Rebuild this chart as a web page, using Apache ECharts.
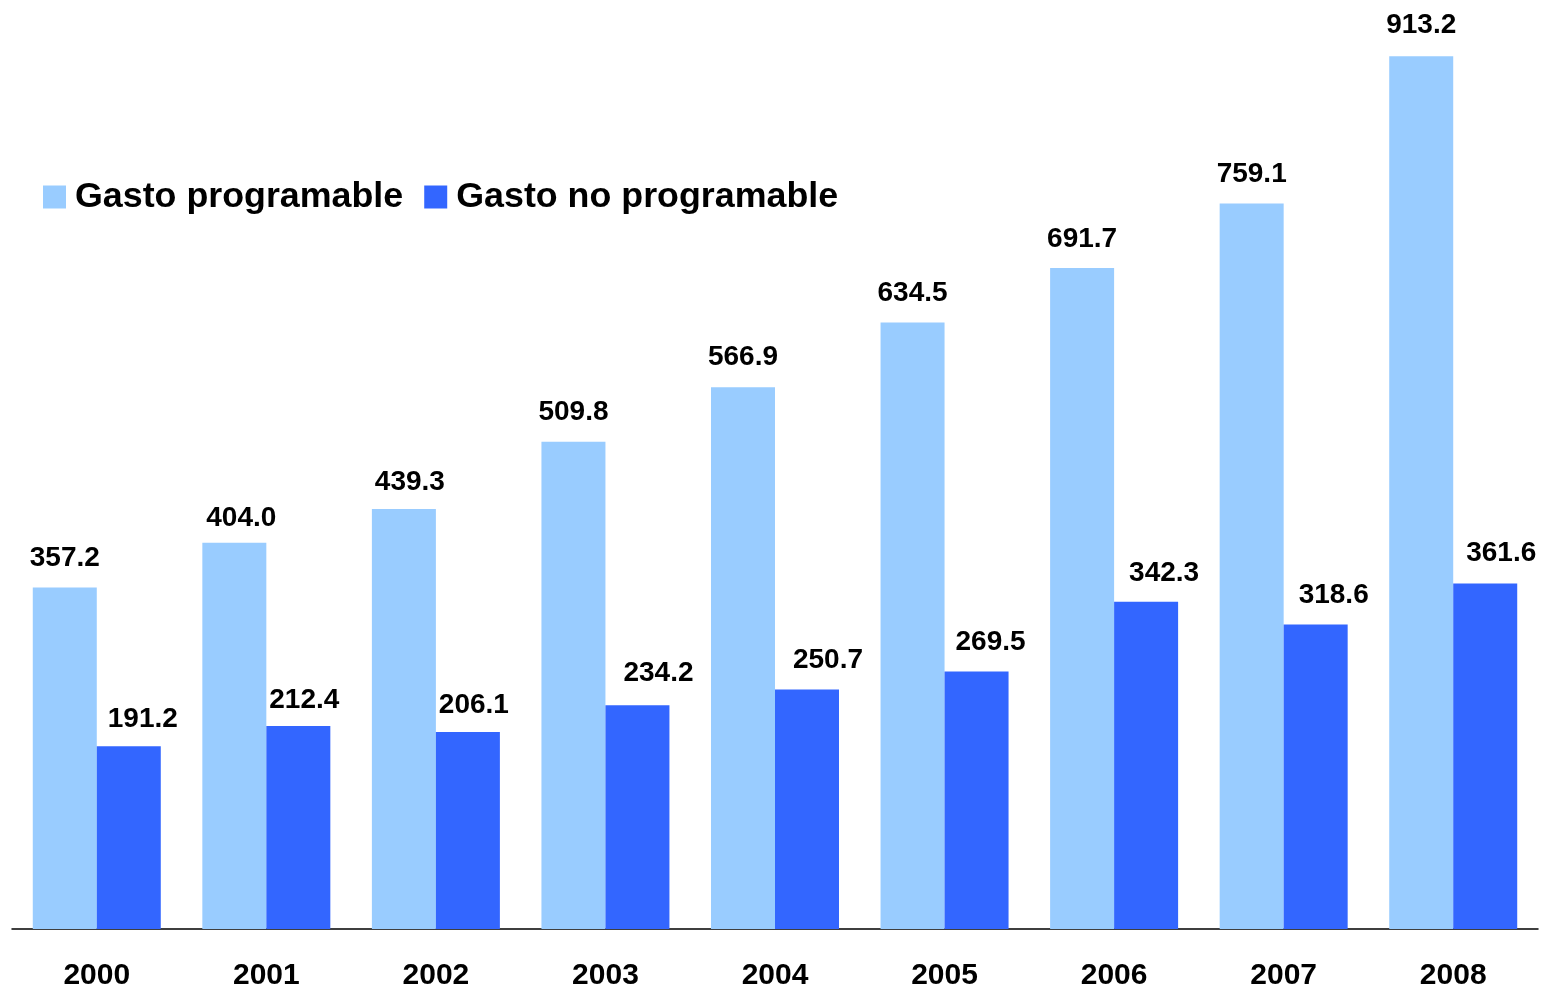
<!DOCTYPE html>
<html>
<head>
<meta charset="utf-8">
<script src="https://cdn.jsdelivr.net/npm/echarts@6/dist/echarts.min.js"></script>
<style>
html,body{margin:0;padding:0;background:#fff;}
#chart{width:1541px;height:991px;}
</style>
</head>
<body>
<div id="chart"></div>
<script>
const years = ['2000','2001','2002','2003','2004','2005','2006','2007','2008'];
const gastoProgramable = [357.2, 404.0, 439.3, 509.8, 566.9, 634.5, 691.7, 759.1, 913.2];
const gastoNoProgramable = [191.2, 212.4, 206.1, 234.2, 250.7, 269.5, 342.3, 318.6, 361.6];
const seriesNames = ['Gasto programable', 'Gasto no programable'];

// label placement tweaks (layout only, in pixels)
const labelShiftProg = [[0,0],[7,4],[6,2],[0,0],[0,-1],[0,0],[0,0],[0,0],[0,-2]];
const labelShiftNoProg = [[14,2],[6,3],[6,2],[21,-3],[21,0],[14,0],[18,0],[18,0],[16,-1]];

const FONT = '"Liberation Sans", Arial, sans-serif';
const chart = echarts.init(document.getElementById('chart'));
const labelCfg = {
  show: true,
  position: 'top',
  distance: 15,
  color: '#000',
  fontFamily: FONT,
  fontWeight: 'bold',
  fontSize: 28,
  formatter: p => Number(p.value).toFixed(1)
};
function items(values, shifts) {
  return values.map((v, i) => ({ value: v, label: { offset: shifts[i] } }));
}
chart.setOption({
  animation: false,
  backgroundColor: '#fff',
  legend: {
    left: 38,
    top: 174,
    itemWidth: 23,
    itemHeight: 23,
    itemGap: 21,
    icon: 'rect',
    textStyle: {
      fontFamily: FONT,
      fontWeight: 'bold',
      fontSize: 35.8,
      color: '#000',
      padding: [0, 0, 0, 4]
    },
    data: seriesNames
  },
  grid: { left: 12, right: 3, top: 21, bottom: 61, containLabel: false },
  xAxis: {
    type: 'category',
    data: years,
    axisLine: { show: true, lineStyle: { color: '#000', width: 1.5 } },
    axisTick: { show: false },
    axisLabel: {
      color: '#000',
      fontFamily: FONT,
      fontWeight: 'bold',
      fontSize: 30,
      margin: 32
    }
  },
  yAxis: {
    type: 'value',
    min: 0,
    max: 950,
    show: false,
    splitLine: { show: false }
  },
  series: [
    {
      name: seriesNames[0],
      type: 'bar',
      data: items(gastoProgramable, labelShiftProg),
      itemStyle: { color: '#99CCFF' },
      barWidth: 64,
      barGap: '0%',
      label: labelCfg
    },
    {
      name: seriesNames[1],
      type: 'bar',
      data: items(gastoNoProgramable, labelShiftNoProg),
      itemStyle: { color: '#3366FF' },
      barWidth: 64,
      barGap: '0%',
      label: labelCfg
    }
  ]
});
</script>
</body>
</html>
